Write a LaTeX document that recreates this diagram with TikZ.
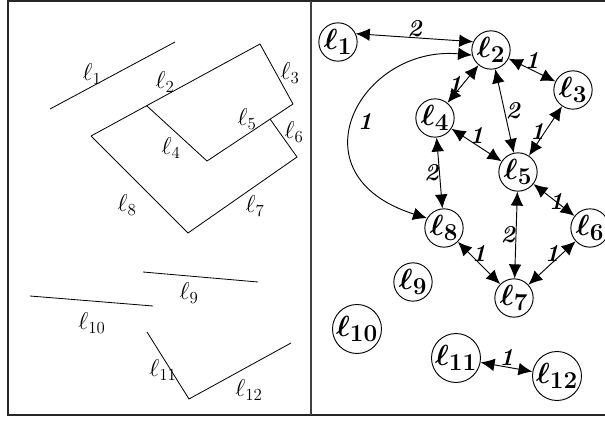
\documentclass[tikz,border=0pt]{standalone}
\usepackage{amsmath,amssymb,bm}
\usetikzlibrary{arrows.meta}

\tikzset{
	seg/.style={line width=0.7pt},
	seglbl/.style={font=\huge, inner sep=0pt},
	vtx/.style={draw, circle, line width=0.8pt, minimum size=1.15cm, inner sep=0pt, font=\Huge},
	link/.style={line width=0.8pt, {Latex[length=4.2mm,width=3.8mm]}-{Latex[length=4.2mm,width=3.8mm]}},
	wt/.style={font=\huge\bfseries\itshape, inner sep=0.5pt},
}

\begin{document}
\begin{tikzpicture}[x=0.03cm, y=-0.03cm]
			\useasboundingbox (0, 0) rectangle (605, 421);
			% Frame and divider
			\draw[line width=1.1pt, black!85] (605, 1) -- (8, 1) -- (8, 415) -- (605, 415);
			\draw[line width=1.1pt, black!75] (311, 1) -- (311, 415);
			% Segments (left panel)
			\draw[seg] (50, 109) -- (175, 42);
			\draw[seg] (91, 136) -- (260, 44) -- (293, 104) -- (207, 161) -- (147, 106);
			\draw[seg] (270, 119) -- (297, 157) -- (188, 233) -- (91, 136);
			\draw[seg] (143, 272) -- (258, 282);
			\draw[seg] (30, 296) -- (153, 306);
			\draw[seg] (147, 332) -- (189, 399) -- (291, 343);
			\node[seglbl] (s1) at (92, 74) {$\ell_{1}$};
			\node[seglbl] (s2) at (165, 82) {$\ell_{2}$};
			\node[seglbl] (s3) at (290, 73) {$\ell_{3}$};
			\node[seglbl] (s4) at (171, 148) {$\ell_{4}$};
			\node[seglbl] (s5) at (247, 119) {$\ell_{5}$};
			\node[seglbl] (s6) at (294, 132) {$\ell_{6}$};
			\node[seglbl] (s7) at (255, 206) {$\ell_{7}$};
			\node[seglbl] (s8) at (127, 205) {$\ell_{8}$};
			\node[seglbl] (s9) at (189, 293) {$\ell_{9}$};
			\node[seglbl] (s10) at (92, 323) {$\ell_{10}$};
			\node[seglbl] (s11) at (163, 370) {$\ell_{11}$};
			\node[seglbl] (s12) at (249, 390) {$\ell_{12}$};
			% Graph (right panel)
			\node[vtx] (l1) at (338, 42) {$\bm{\ell}_{\mathbf{1}}$};
			\node[vtx] (l2) at (491, 50) {$\bm{\ell}_{\mathbf{2}}$};
			\node[vtx] (l3) at (573, 90) {$\bm{\ell}_{\mathbf{3}}$};
			\node[vtx] (l4) at (435, 118) {$\bm{\ell}_{\mathbf{4}}$};
			\node[vtx] (l5) at (518, 172) {$\bm{\ell}_{\mathbf{5}}$};
			\node[vtx] (l6) at (590, 228) {$\bm{\ell}_{\mathbf{6}}$};
			\node[vtx] (l7) at (514, 298) {$\bm{\ell}_{\mathbf{7}}$};
			\node[vtx] (l8) at (444, 228) {$\bm{\ell}_{\mathbf{8}}$};
			\node[vtx] (l9) at (413, 282) {$\bm{\ell}_{\mathbf{9}}$};
			\node[vtx] (l10) at (357, 329) {$\bm{\ell}_{\mathbf{10}}$};
			\node[vtx] (l11) at (456, 358) {$\bm{\ell}_{\mathbf{11}}$};
			\node[vtx] (l12) at (557, 376) {$\bm{\ell}_{\mathbf{12}}$};
			% Weighted links
			\draw[link] (l1.25) -- node[wt, above] {2} (l2.155);
			\draw[link] (l2) -- node[wt, above] {1} (l3);
			\draw[link] (l2) -- node[wt, left] {1} (l4);
			\draw[link] (l2) -- node[wt, right] {2} (l5);
			\draw[link] (l3) -- node[wt, left] {1} (l5);
			\draw[link] (l4) -- node[wt, above] {1} (l5);
			\draw[link] (l4) -- node[wt, left] {2} (l8);
			\draw[link] (l5) -- node[wt, pos=0.55] {1} (l6);
			\draw[link] (l5) -- node[wt, left] {2} (l7);
			\draw[link] (l6) -- node[wt, above] {1} (l7);
			\draw[link] (l8) -- node[wt, above] {1} (l7);
			\draw[link] (l11) -- node[wt, above] {1} (l12);
			\draw[link] (l2.195) .. controls (360, 45) and (290, 175) .. node[wt, right=2pt, pos=0.52] {1} (l8.150);
		\end{tikzpicture}
\end{document}
